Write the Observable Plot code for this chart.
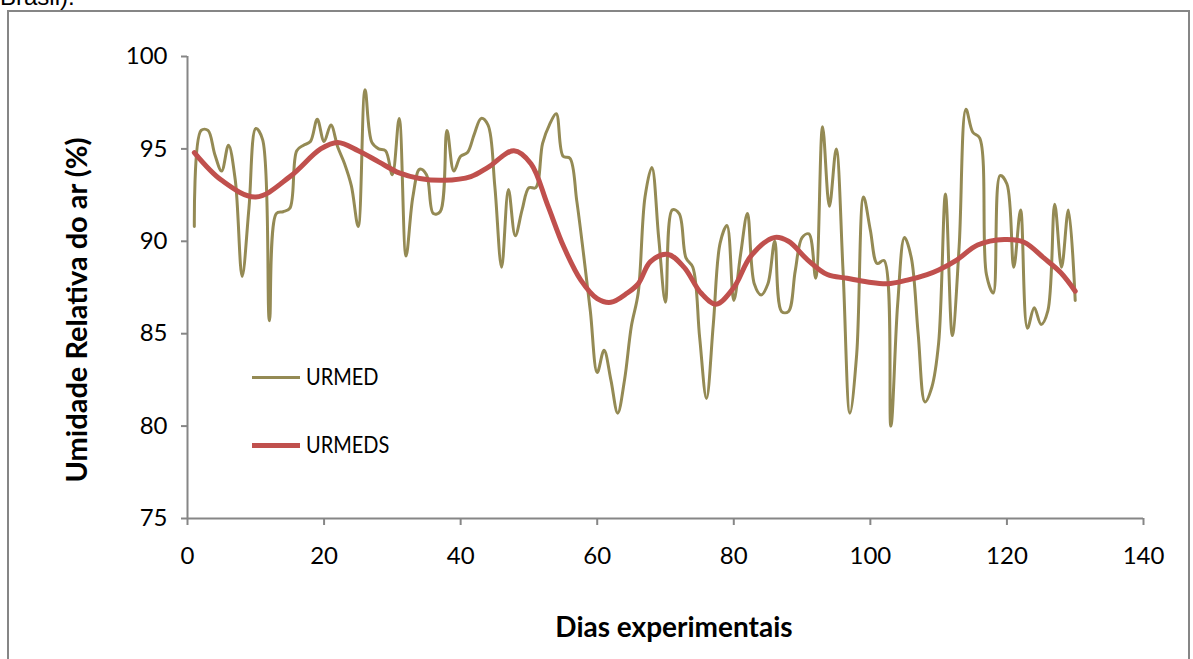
<!DOCTYPE html>
<html>
<head>
<meta charset="utf-8">
<script src="https://cdn.jsdelivr.net/npm/d3@7"></script>
<script src="https://cdn.jsdelivr.net/npm/@observablehq/plot@0.6"></script>
<style>
  html, body { margin: 0; padding: 0; background: #fff; width: 1193px; height: 659px; overflow: hidden; position: relative; font-family: Lato, "DejaVu Sans", sans-serif; }
  #top { position: absolute; left: 0; top: -17px; font-family: "Liberation Sans", Arial, sans-serif; font-size: 24px; color: #000; }
  #frame { position: absolute; left: 7px; top: 10px; width: 1183px; height: 660px; border: 2px solid #868686; box-sizing: border-box; }
  #chart { position: absolute; left: 0; top: 0; }
  .leg { position: absolute; font-family: Lato, sans-serif; font-size: 20px; color: #000; transform: scaleY(1.12); }
  .legline { position: absolute; }
</style>
</head>
<body>
<div id="top">Brasil).</div>
<div id="frame"></div>
<div id="chart"></div>
<div class="legline" style="left:252px; top:376px; width:48px; height:3px; background:#948A54;"></div>
<div class="leg" style="left:306px; top:364px;">URMED</div>
<div class="legline" style="left:252px; top:443px; width:48px; height:5px; background:#C0504D;"></div>
<div class="leg" style="left:306px; top:432px;">URMEDS</div>
<script>
const days = d3.range(1, 131);
const urmed = [
  90.8, 96.0, 96.0, 94.7, 93.8, 95.2, 93.3, 88.1, 91.8, 96.1,
  95.5, 85.7, 91.5, 91.6, 91.8, 94.9, 95.2, 95.4, 96.6, 95.4,
  96.3, 95.1, 94.2, 93.0, 90.8, 98.2, 95.35, 95.0, 94.9, 93.6,
  96.65, 89.2, 92.4, 93.9, 93.6, 91.5, 91.6, 96.0, 93.8, 94.6,
  94.8, 95.8, 96.65, 96.3, 93.0, 88.6, 92.8, 90.3, 91.7, 92.9,
  92.9, 95.3, 96.3, 96.9, 94.6, 94.5, 92.2, 89.3, 86.2, 82.9,
  84.1, 82.5, 80.7, 82.5, 85.4, 87.2, 92.4, 94.0, 90.2, 86.7,
  91.7, 91.5, 89.1, 88.6, 84.8, 81.5, 85.5, 89.9, 90.85, 86.8,
  89.3, 91.5, 87.7, 87.1, 87.7, 90.0, 86.2, 86.2, 88.4, 90.2,
  90.4, 88.0, 96.2, 91.9, 95.0, 88.4, 80.7, 83.9, 92.4, 90.6,
  88.8, 88.96, 80.0, 86.6, 90.2, 89.1, 85.0, 81.3, 82.1, 84.5,
  92.56, 84.9, 89.7, 97.15, 95.9, 95.6, 88.2, 87.2, 93.55, 93.1,
  88.6, 91.7, 85.3, 86.4, 85.5, 86.25, 92.0, 88.6, 91.7, 86.8
];
const smoothDays = [1, 5, 10, 15, 19.5, 22, 25, 28, 31, 34, 37.5, 41.5, 44, 47.8, 50.3, 52.7, 55.1, 57.6, 60, 62, 64.4, 66, 67.8, 70.3, 72.7, 75.2, 77.4, 80, 82.5, 85.9, 88, 90.8, 93.7, 96.6, 99.6, 102.5, 105.4, 108.3, 110, 112.7, 115.7, 119.6, 122.5, 125.4, 127.9, 130];
const urmeds = [94.8, 93.3, 92.4, 93.5, 95.0, 95.35, 94.9, 94.3, 93.7, 93.4, 93.3, 93.5, 94.0, 94.9, 94.2, 92.0, 89.7, 87.9, 86.9, 86.7, 87.2, 87.7, 88.9, 89.3, 88.6, 87.2, 86.6, 87.5, 89.2, 90.2, 90.0, 89.0, 88.2, 88.0, 87.8, 87.7, 87.9, 88.2, 88.45, 89.0, 89.8, 90.1, 89.95, 89.1, 88.3, 87.3];
const xTicks = [0, 20, 40, 60, 80, 100, 120, 140];
const yTicks = [75, 80, 85, 90, 95, 100];

const dataA = days.map((d, i) => ({day: d, v: urmed[i]}));
const dataB = smoothDays.map((d, i) => ({day: d, v: urmeds[i]}));

const axisColor = "#868686";
const chart = Plot.plot({
  width: 1193,
  height: 659,
  marginLeft: 187,
  marginRight: 50,
  marginTop: 56,
  marginBottom: 141,
  style: {fontFamily: "Lato, sans-serif", fontSize: "24px", color: "#000", background: "transparent"},
  x: {domain: [0, 140]},
  y: {domain: [75, 100]},
  marks: [
    Plot.axisY({ticks: yTicks, tickSize: 6, tickPadding: 14, stroke: axisColor, strokeWidth: 2, label: null, fontSize: 24}),
    Plot.axisX({ticks: xTicks, tickSize: 7, tickPadding: 21, stroke: axisColor, strokeWidth: 2, label: null, fontSize: 24}),
    Plot.ruleX([0], {stroke: axisColor, strokeWidth: 2}),
    Plot.ruleY([75], {stroke: axisColor, strokeWidth: 2}),
    Plot.line(dataA, {x: "day", y: "v", stroke: "#948A54", strokeWidth: 3, curve: "catmull-rom"}),
    Plot.line(dataB, {x: "day", y: "v", stroke: "#C0504D", strokeWidth: 5, curve: "catmull-rom"})
  ]
});
const svg = d3.select(chart);
svg.append("text")
  .attr("x", 674).attr("y", 637)
  .attr("text-anchor", "middle")
  .attr("font-family", "Lato, sans-serif").attr("font-weight", "bold").attr("font-size", 28)
  .attr("fill", "#000")
  .text("Dias experimentais");
svg.append("text")
  .attr("transform", "translate(87,310) rotate(-90)")
  .attr("text-anchor", "middle")
  .attr("font-family", "Lato, sans-serif").attr("font-weight", "bold").attr("font-size", 29)
  .attr("fill", "#000")
  .text("Umidade Relativa do ar (%)");
document.getElementById("chart").appendChild(chart);
</script>
</body>
</html>
